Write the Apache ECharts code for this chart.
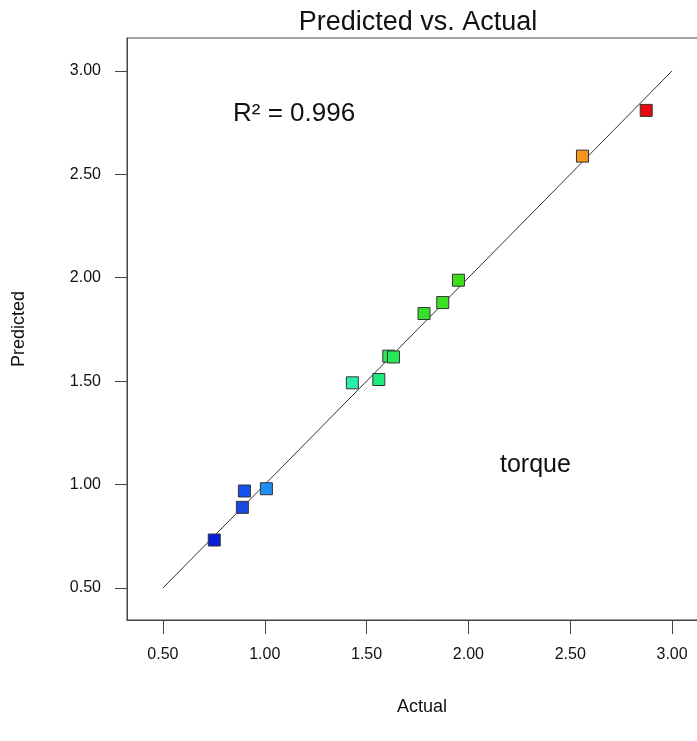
<!DOCTYPE html>
<html>
<head>
<meta charset="utf-8">
<script src="https://cdn.jsdelivr.net/npm/echarts@6/dist/echarts.min.js"></script>
<style>
  html, body { margin: 0; padding: 0; background: #fff; }
  #main { width: 697px; height: 741px; }
</style>
</head>
<body>
<div id="main"></div>
<script>
// 数据
const actual    = [2.873, 2.560, 1.951, 1.874, 1.782, 1.609, 1.632, 1.560, 1.430, 1.008, 0.900, 0.890, 0.752]
const predicted = [2.809, 2.588, 1.988, 1.880, 1.827, 1.621, 1.617, 1.508, 1.492, 0.980, 0.969, 0.890, 0.732]
const pointColors = ['#e8080e', '#f7941d', '#3ddf1c', '#3ce024', '#35e02c', '#2ae65a', '#2ae65a',
                     '#1ee87e', '#2aeea6', '#1e8ff6', '#1451ee', '#1a49e2', '#0a1fd8']
const tickValues = [0.5, 1.0, 1.5, 2.0, 2.5, 3.0]
const lineEnds = [[0.5, 0.5], [3.0, 3.0]]

const font = 'Liberation Sans, Arial, sans-serif'

let chart = echarts.init(document.getElementById('main'))

let scatterData = actual.map((x, i) => ({
    value: [x, predicted[i]],
    itemStyle: { color: pointColors[i] }
}))

let axisCommon = {
    type: 'value',
    splitLine: { show: false },
    axisLine: { show: true, lineStyle: { color: '#444', width: 1 } },
    axisTick: { show: true, customValues: tickValues, lineStyle: { color: '#444' } },
    axisLabel: {
        customValues: tickValues,
        formatter: v => v.toFixed(2),
        color: '#111',
        fontSize: 16,
        fontFamily: font
    },
    nameLocation: 'middle',
    nameTextStyle: { color: '#111', fontSize: 18, fontFamily: font }
}

let option = {
    animation: false,
    backgroundColor: '#fff',
    grid: {
        left: 127, top: 38, right: -20, bottom: 121,
        outerBoundsMode: 'none',
        containLabel: false,
        show: true, borderColor: '#444', borderWidth: 1
    },
    xAxis: Object.assign({}, axisCommon, {
        min: 0.3235, max: 3.2206,
        name: 'Actual', nameGap: 78,
        axisTick: Object.assign({}, axisCommon.axisTick, { length: 14 }),
        axisLabel: Object.assign({}, axisCommon.axisLabel, { margin: 27 })
    }),
    yAxis: Object.assign({}, axisCommon, {
        min: 0.3454, max: 3.159,
        name: 'Predicted', nameGap: 99,
        axisTick: Object.assign({}, axisCommon.axisTick, { length: 12 }),
        axisLabel: Object.assign({}, axisCommon.axisLabel, { margin: 26 })
    }),
    graphic: [
        {
            type: 'text', x: 418, y: 23,
            style: { text: 'Predicted vs. Actual', fontSize: 27, fontFamily: font, fill: '#111',
                     align: 'center', verticalAlign: 'middle' }
        },
        {
            type: 'text', x: 233, y: 114,
            style: { text: 'R² = 0.996', fontSize: 26, fontFamily: font, fill: '#111',
                     align: 'left', verticalAlign: 'middle' }
        },
        {
            type: 'text', x: 500, y: 465,
            style: { text: 'torque', fontSize: 25, fontFamily: font, fill: '#111',
                     align: 'left', verticalAlign: 'middle' }
        }
    ],
    series: [
        {
            type: 'line',
            data: lineEnds,
            symbol: 'none',
            lineStyle: { color: '#333', width: 1 },
            z: 1
        },
        {
            type: 'scatter',
            data: scatterData,
            symbol: 'rect',
            symbolSize: 12,
            itemStyle: { borderColor: '#333', borderWidth: 1, opacity: 1 },
            z: 2
        }
    ]
}

chart.setOption(option)
</script>
</body>
</html>
